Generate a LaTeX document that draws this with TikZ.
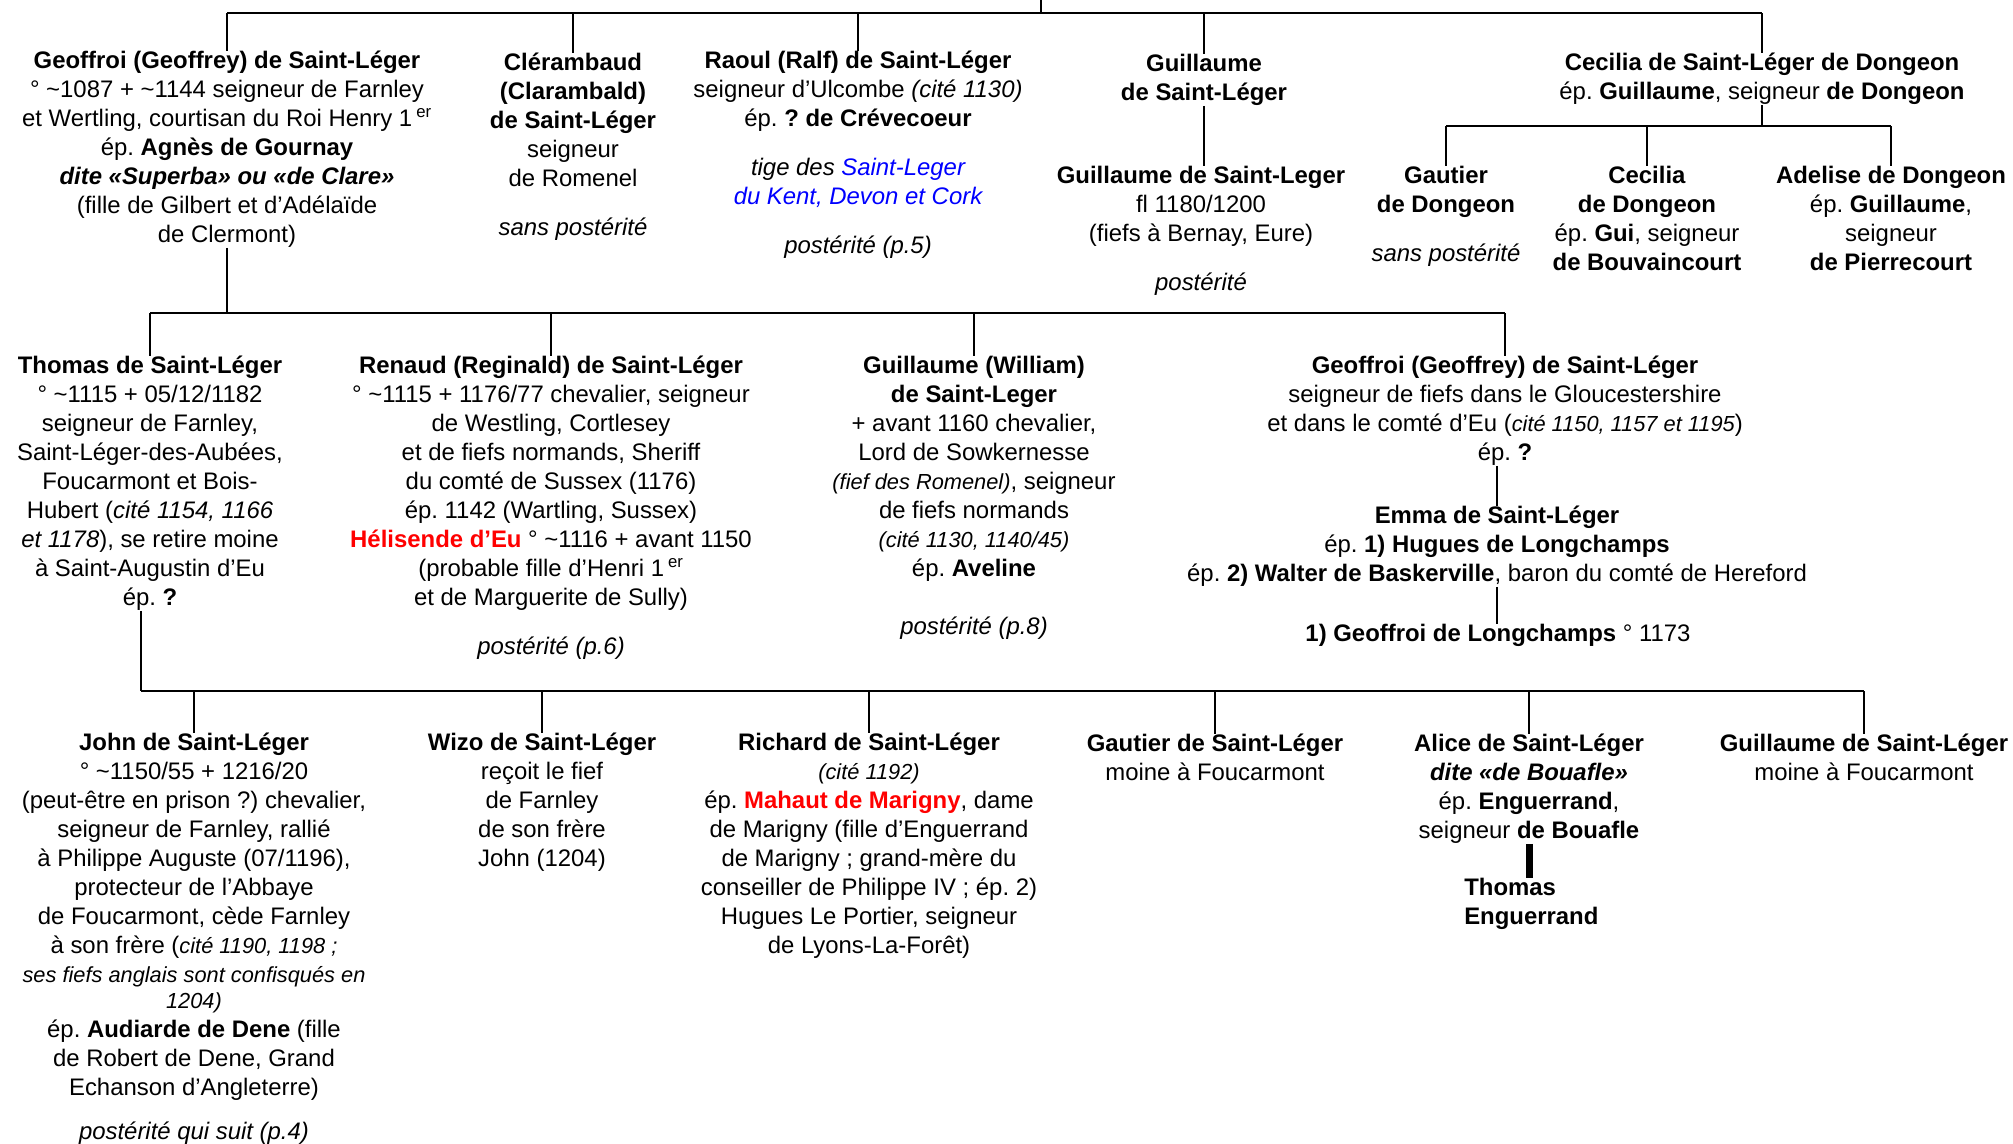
\documentclass[tikz,border=0pt]{standalone}
\usepackage{fontspec}
\setmainfont{Liberation Sans}
\frenchspacing
\newcommand{\cit}[1]{{\fontsize{15.5}{20.6}\selectfont\itshape #1}}

\begin{document}
\begin{tikzpicture}[x=0.025cm, y=-0.025cm,
    person/.style={align=center, anchor=north, inner sep=0pt, font=\fontsize{17}{20.6}\selectfont},
    link/.style={line width=1.3pt}]
    \useasboundingbox (0,0) rectangle (2013,1144);

    % Define bus lines
    \coordinate (root) at (1041,0);
    \coordinate (busA) at (0,13);
    \coordinate (busB) at (0,313);
    \coordinate (busC) at (141,691);
    \coordinate (busD) at (0,126);

    % First generation
    \node[person] (geoffroiA) at (227,51) {\textbf{Geoffroi (Geoffrey) de Saint-Léger}\\
        ° \textasciitilde1087 + \textasciitilde1144 seigneur de Farnley\\
        et Wertling, courtisan du Roi Henry 1\,\textsuperscript{er}\\
        ép. \textbf{Agnès de Gournay}\\
        \textbf{\itshape dite «Superba» ou «de Clare»}\\
        (fille de Gilbert et d’Adélaïde\\
        de Clermont)};
    \node[person] (clerambaud) at (573,53) {\textbf{Clérambaud}\\ \textbf{(Clarambald)}\\ \textbf{de Saint-Léger}\\
        seigneur\\ de Romenel\\[0.5cm] \textit{sans postérité}};
    \node[person] (raoul) at (858,51) {\textbf{Raoul (Ralf) de Saint-Léger}\\
        seigneur d’Ulcombe \textit{(cité 1130)}\\
        ép. \textbf{? de Crévecoeur}\\[0.5cm]
        \textit{tige des \textcolor{blue}{Saint-Leger}}\\
        \textit{\textcolor{blue}{du Kent, Devon et Cork}}\\[0.5cm]
        \textit{postérité (p.5)}};
    \node[person] (guillaumeA) at (1204,54) {\textbf{Guillaume}\\ \textbf{de Saint-Léger}};
    \node[person] (guillaumeB) at (1201,166) {\textbf{Guillaume de Saint-Leger}\\
        fl 1180/1200\\ (fiefs à Bernay, Eure)\\[0.5cm] \textit{postérité}};
    \node[person] (cecilia) at (1762,53) {\textbf{Cecilia de Saint-Léger de Dongeon}\\
        ép. \textbf{Guillaume}, seigneur \textbf{de Dongeon}};
    \node[person] (gautierD) at (1446,166) {\textbf{Gautier}\\ \textbf{de Dongeon}\\[0.5cm] \textit{sans postérité}};
    \node[person] (ceciliaD) at (1647,166) {\textbf{Cecilia}\\ \textbf{de Dongeon}\\
        ép. \textbf{Gui}, seigneur\\ \textbf{de Bouvaincourt}};
    \node[person] (adelise) at (1891,166) {\textbf{Adelise de Dongeon}\\
        ép. \textbf{Guillaume},\\ seigneur\\ \textbf{de Pierrecourt}};

    % Second generation
    \node[person] (thomas) at (150,356) {\textbf{Thomas de Saint-Léger}\\
        ° \textasciitilde1115 + 05/12/1182\\
        seigneur de Farnley,\\
        Saint-Léger-des-Aubées,\\
        Foucarmont et Bois-\\
        Hubert (\textit{cité 1154, 1166}\\
        \textit{et 1178}), se retire moine\\
        à Saint-Augustin d’Eu\\
        ép. \textbf{?}};
    \node[person] (renaud) at (551,356) {\textbf{Renaud (Reginald) de Saint-Léger}\\
        ° \textasciitilde1115 + 1176/77 chevalier, seigneur\\
        de Westling, Cortlesey\\
        et de fiefs normands, Sheriff\\
        du comté de Sussex (1176)\\
        ép. 1142 (Wartling, Sussex)\\
        \textcolor{red}{\textbf{Hélisende d’Eu}} ° \textasciitilde1116 + avant 1150\\
        (probable fille d’Henri 1\,\textsuperscript{er}\\
        et de Marguerite de Sully)\\[0.5cm]
        \textit{postérité (p.6)}};
    \node[person] (guillaumeW) at (974,356) {\textbf{Guillaume (William)}\\
        \textbf{de Saint-Leger}\\
        + avant 1160 chevalier,\\
        Lord de Sowkernesse\\
        \cit{(fief des Romenel)}, seigneur\\
        de fiefs normands\\
        \cit{(cité 1130, 1140/45)}\\
        ép. \textbf{Aveline}\\[0.72cm]
        \textit{postérité (p.8)}};
    \node[person] (geoffroiB) at (1505,356) {\textbf{Geoffroi (Geoffrey) de Saint-Léger}\\
        seigneur de fiefs dans le Gloucestershire\\
        et dans le comté d’Eu (\cit{cité 1150, 1157 et 1195})\\
        ép. \textbf{?}};
    \node[person] (emma) at (1497,506) {\textbf{Emma de Saint-Léger}\\
        ép. \textbf{1) Hugues de Longchamps}\\
        ép. \textbf{2) Walter de Baskerville}, baron du comté de Hereford};
    \node[person] (longchamps) at (1498,624) {\textbf{1) Geoffroi de Longchamps} ° 1173};

    % Third generation
    \node[person] (john) at (194,733) {\textbf{John de Saint-Léger}\\
        ° \textasciitilde1150/55 + 1216/20\\
        (peut-être en prison ?) chevalier,\\
        seigneur de Farnley, rallié\\
        à Philippe Auguste (07/1196),\\
        protecteur de l’Abbaye\\
        de Foucarmont, cède Farnley\\
        à son frère (\cit{cité 1190, 1198 ;}\\
        \cit{ses fiefs anglais sont confisqués en}\\[-0.08cm]
        \cit{1204)}\\
        ép. \textbf{Audiarde de Dene} (fille\\
        de Robert de Dene, Grand\\
        Echanson d’Angleterre)\\[0.38cm]
        \textit{postérité qui suit (p.4)}};
    \node[person] (wizo) at (542,733) {\textbf{Wizo de Saint-Léger}\\
        reçoit le fief\\ de Farnley\\ de son frère\\ John (1204)};
    \node[person] (richard) at (869,733) {\textbf{Richard de Saint-Léger}\\
        \cit{(cité 1192)}\\
        ép. \textcolor{red}{\textbf{Mahaut de Marigny}}, dame\\
        de Marigny (fille d’Enguerrand\\
        de Marigny ; grand-mère du\\
        conseiller de Philippe IV ; ép. 2)\\
        Hugues Le Portier, seigneur\\
        de Lyons-La-Forêt)};
    \node[person] (gautierS) at (1215,734) {\textbf{Gautier de Saint-Léger}\\ moine à Foucarmont};
    \node[person] (alice) at (1529,734) {\textbf{Alice de Saint-Léger}\\
        \textbf{\itshape dite «de Bouafle»}\\
        ép. \textbf{Enguerrand},\\
        seigneur \textbf{de Bouafle}};
    \node[person, anchor=north west, align=left] (thomasE) at (1464,878) {\textbf{Thomas}\\ \textbf{Enguerrand}};
    \node[person] (guillaumeS) at (1864,734) {\textbf{Guillaume de Saint-Léger}\\ moine à Foucarmont};

    % Draw links
    \draw[link] (root) -- (root |- busA);
    \draw[link] (geoffroiA.north |- busA) -- (cecilia.north |- busA);
    \foreach \n in {geoffroiA, clerambaud, raoul, guillaumeA, cecilia}
        \draw[link] (\n.north |- busA) -- (\n.north);
    \draw[link] (guillaumeA.south) -- (guillaumeA.south |- guillaumeB.north);
    \draw[link] (cecilia.south) -- (cecilia.south |- busD);
    \draw[link] (gautierD.north |- busD) -- (adelise.north |- busD);
    \foreach \n in {gautierD, ceciliaD, adelise}
        \draw[link] (\n.north |- busD) -- (\n.north);

    \draw[link] (geoffroiA.south) -- (geoffroiA.south |- busB);
    \draw[link] (thomas.north |- busB) -- (geoffroiB.north |- busB);
    \foreach \n in {thomas, renaud, guillaumeW, geoffroiB}
        \draw[link] (\n.north |- busB) -- (\n.north);
    \draw[link] (emma.north |- geoffroiB.south) -- (emma.north);
    \draw[link] (emma.south) -- (emma.south |- longchamps.north);

    \draw[link] (busC |- thomas.south) -- (busC);
    \draw[link] (busC) -- (guillaumeS.north |- busC);
    \foreach \n in {john, wizo, richard, gautierS, alice, guillaumeS}
        \draw[link] (\n.north |- busC) -- (\n.north);
    \draw[line width=5pt] (alice.south) -- (alice.south |- thomasE.north);
\end{tikzpicture}
\end{document}
